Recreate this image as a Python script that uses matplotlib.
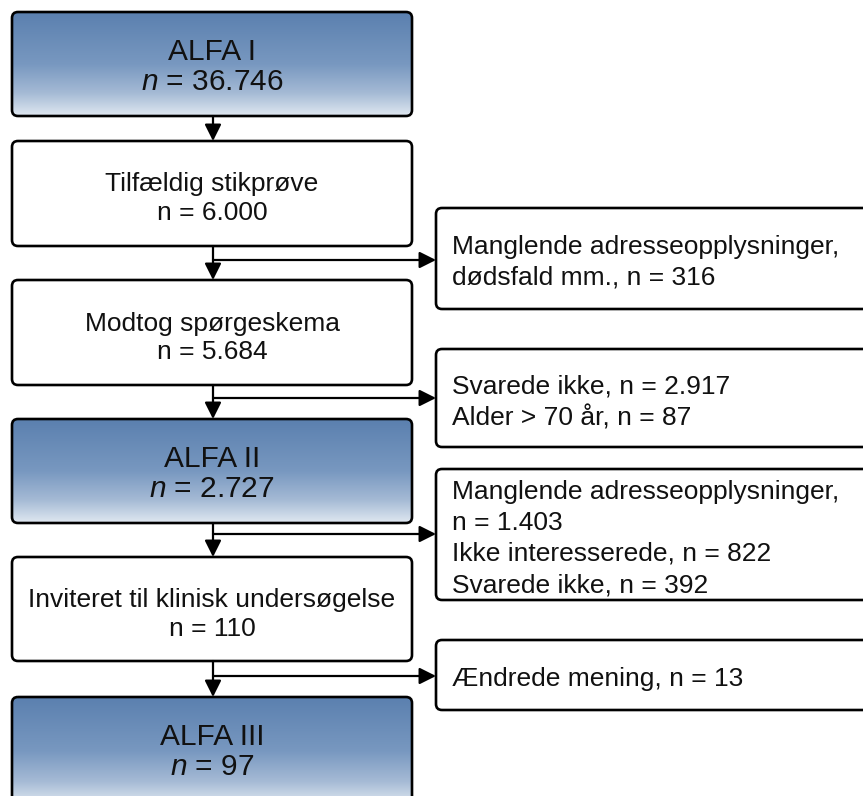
import matplotlib
matplotlib.use("Agg")
import matplotlib.pyplot as plt
import numpy as np
from matplotlib.patches import FancyBboxPatch
from matplotlib.colors import LinearSegmentedColormap

plt.rcParams['font.family'] = ['Liberation Sans', 'DejaVu Sans']
plt.rcParams['mathtext.fontset'] = 'custom'
plt.rcParams['mathtext.rm'] = 'Liberation Sans'
plt.rcParams['mathtext.it'] = 'Liberation Sans:italic'

# ---- data ----
main_titles = ["ALFA I", "Tilfældig stikprøve", "Modtog spørgeskema", "ALFA II",
               "Inviteret til klinisk undersøgelse", "ALFA III"]
main_counts = ["36.746", "6.000", "5.684", "2.727", "110", "97"]
main_highlight = [True, False, False, True, False, True]
side_texts = [
    ["Manglende adresseopplysninger,", "dødsfald mm., n = 316"],
    ["Svarede ikke, n = 2.917", "Alder > 70 år, n = 87"],
    ["Manglende adresseopplysninger,", "n = 1.403", "Ikke interesserede, n = 822",
     "Svarede ikke, n = 392"],
    ["Ændrede mening, n = 13"],
]

# ---- layout (pixels) ----
W, H = 863, 796
main_x0, main_x1 = 12, 412
main_tops = [12, 141, 280, 419, 557, 697]
main_bots = [116, 246, 385, 523, 661, 805]
side_x0, side_x1 = 436, 875
side_tops = [208, 349, 469, 640]
side_bots = [309, 447, 600, 710]
branch_y = [260, 398, 534, 676]
arrow_x = 213

fig = plt.figure(figsize=(W / 100, H / 100), dpi=100)
ax = fig.add_axes([0, 0, 1, 1])
ax.set_xlim(0, W)
ax.set_ylim(H, 0)
ax.axis('off')

cmap = LinearSegmentedColormap.from_list(
    "grad", [(0.0, "#5b80af"), (0.5, "#7898c0"), (0.78, "#a5bad5"), (1.0, "#e0e8f1")])
grad = np.linspace(0, 1, 256).reshape(-1, 1)

def box(x0, y0, x1, y1, gradient=False):
    p = FancyBboxPatch((x0, y0), x1 - x0, y1 - y0,
                       boxstyle="round,pad=0,rounding_size=6",
                       facecolor="none" if gradient else "white",
                       edgecolor="black", linewidth=1.9, zorder=3)
    ax.add_patch(p)
    if gradient:
        im = ax.imshow(grad, cmap=cmap, aspect='auto',
                       extent=(x0, x1, y1, y0), origin='upper', zorder=2)
        im.set_clip_path(p)
    return p

for i, (t, c, hl) in enumerate(zip(main_titles, main_counts, main_highlight)):
    y0, y1 = main_tops[i], main_bots[i]
    box(main_x0, y0, main_x1, y1, gradient=hl)
    cy = (main_tops[i] + min(main_bots[i], main_tops[i] + 104)) / 2 + 2
    cx = (main_x0 + main_x1) / 2
    if hl:
        ax.text(cx, cy - 14, t, ha='center', va='center', fontsize=21.5, color='#111111', zorder=4)
        ax.text(cx, cy + 16, "$n$ = " + c, ha='center', va='center', fontsize=21.5,
                color='#111111', zorder=4)
    else:
        ax.text(cx, cy - 10.5, t, ha='center', va='center', fontsize=19, color='#111111', zorder=4)
        ax.text(cx, cy + 18, "n = " + c, ha='center', va='center', fontsize=19,
                color='#111111', zorder=4)

for i, lines in enumerate(side_texts):
    y0, y1 = side_tops[i], side_bots[i]
    box(side_x0, y0, side_x1, y1)
    cy = (y0 + y1) / 2 + 4
    n = len(lines)
    sp = 31
    for k, ln in enumerate(lines):
        ax.text(452, cy + (k - (n - 1) / 2) * sp, ln, ha='left', va='center',
                fontsize=19, color='#111111', zorder=4)

arrow_kw = dict(arrowstyle="-|>,head_length=1.0,head_width=0.5", color="black",
                lw=1.6, shrinkA=0, shrinkB=0, mutation_scale=10)
for i in range(len(main_tops) - 1):
    ax.annotate("", xy=(arrow_x, main_tops[i + 1]), xytext=(arrow_x, main_bots[i]),
                arrowprops=arrow_kw, zorder=5)
for by in branch_y:
    ax.annotate("", xy=(side_x0, by), xytext=(arrow_x, by),
                arrowprops=arrow_kw, zorder=5)

fig.savefig("out.png", dpi=100)
